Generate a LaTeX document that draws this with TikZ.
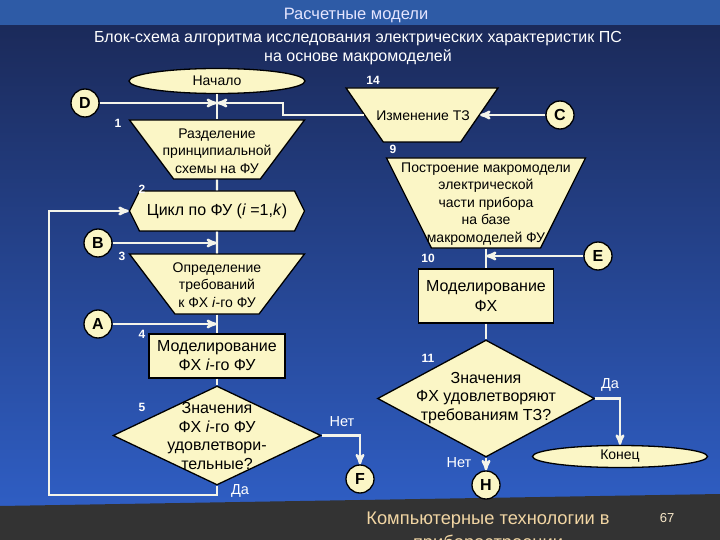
\documentclass[tikz,border=0pt]{standalone}
\usepackage{fontspec}
\setmainfont{Liberation Sans}
\usetikzlibrary{
    arrows,
    shapes,
    calc,
    positioning
}
\definecolor{slidetop}{HTML}{2E5BA6}
\definecolor{slidenavy}{HTML}{1B2A5A}
\definecolor{slideblue}{HTML}{2F5EC4}
\definecolor{footgray}{HTML}{333333}
\definecolor{blockfill}{HTML}{FBF6C6}
\definecolor{wire}{HTML}{F4F4EA}
\definecolor{foottext}{HTML}{F2D6A4}

\tikzset{
    blk/.style={draw=black, line width=1.3pt, fill=blockfill, inner sep=0pt},
    txt/.style={text=black, align=center, font=\fontsize{14}{17.5}\selectfont},
    bigtxt/.style={text=black, align=center, font=\fontsize{16}{19}\selectfont},
    trap/.style={blk, trapezium, trapezium stretches=true, shape border rotate=180, inner sep=2pt},
    proc/.style={blk, rectangle, bigtxt},
    term/.style={blk, ellipse, txt},
    cyc/.style={blk, signal, signal to=west and east, bigtxt},
    decis/.style={blk, diamond, inner sep=2pt},
    conn/.style={blk, circle, minimum size=28pt, font=\bfseries\fontsize{16}{16}\selectfont},
    num/.style={text=white, font=\bfseries\fontsize{12}{12}\selectfont},
    lbl/.style={text=white, font=\fontsize{14.5}{14.5}\selectfont},
    wireline/.style={draw=wire, line width=2.4pt},
    wirearrow/.style={wireline, ->, >=stealth'}
}

\begin{document}
\begin{tikzpicture}[x=1pt, y=-1pt]
    % slide background
    \useasboundingbox (0,0) rectangle (720,540);
    \fill[top color=slidenavy, bottom color=slideblue] (0,25) rectangle (720,510);
    \fill[slidetop] (0,0) rectangle (720,25);
    \fill[footgray] (0,506) -- (720,494) -- (720,540) -- (0,540) -- cycle;

    \node[text=white!90!blue, font=\fontsize{16.5}{16.5}\selectfont] (head) at (356,15) {Расчетные модели};
    \node[text=white, align=center, font=\fontsize{16}{19}\selectfont] (title) at (358,48)
        {Блок-схема алгоритма исследования электрических характеристик ПС\\на основе макромоделей};

    % left column
    \node[term, minimum width=176pt, minimum height=25pt] (start) at (217,81) {Начало};
    \node[trap, trapezium left angle=63, trapezium right angle=63, minimum width=175pt, minimum height=59pt] (b1) at (217,149.5) {};
    \node[txt] (b1t) at (217,151) {Разделение\\принципиальной\\схемы на ФУ};
    \node[cyc, minimum width=175pt, minimum height=40pt, signal pointer angle=127] (b2) at (217,211) {Цикл по ФУ (\textit{i} =1,\textit{k})};
    \node[trap, trapezium left angle=61.6, trapezium right angle=61.6, minimum width=175pt, minimum height=60pt] (b3) at (217,284) {};
    \node[txt] (b3t) at (217,285) {Определение\\требований\\к ФХ \textit{i}-го ФУ};
    \node[proc, minimum width=136pt, minimum height=44pt] (b4) at (217,356) {Моделирование\\ФХ \textit{i}-го ФУ};
    \node[decis, minimum width=208pt, minimum height=99pt] (b5) at (217,435.5) {};
    \node[bigtxt, font=\fontsize{16}{18.7}\selectfont] (b5t) at (217,436) {Значения\\ФХ \textit{i}-го ФУ\\удовлетвори-\\тельные?};

    % right column
    \node[trap, trapezium left angle=64.3, trapezium right angle=64.3, minimum width=152pt, minimum height=54pt] (b14) at (422,115) {};
    \node[txt] (b14t) at (423,116) {Изменение ТЗ};
    \node[trap, trapezium left angle=67.6, trapezium right angle=67.6, minimum width=199pt, minimum height=90pt] (b9) at (486,203) {};
    \node[txt] (b9t) at (486,204) {Построение макромодели\\электрической\\части прибора\\на базе\\макромоделей ФУ};
    \node[proc, minimum width=135pt, minimum height=54pt, font=\fontsize{16}{20}\selectfont] (b10) at (486,296) {Моделирование\\ФХ};
    \node[decis, minimum width=217pt, minimum height=117pt] (b11) at (486,398.5) {};
    \node[bigtxt, font=\fontsize{16}{18.5}\selectfont] (b11t) at (486,398) {Значения\\ФХ удовлетворяют\\требованиям ТЗ?};
    \node[term, minimum width=175pt, minimum height=22pt] (stop) at (620,456.5) {Конец};

    % connectors
    \node[conn] (cD) at (85,103) {D};
    \node[conn] (cC) at (560,115) {C};
    \node[conn] (cB) at (98,243) {B};
    \node[conn] (cA) at (98,324) {A};
    \node[conn] (cE) at (598,256) {E};
    \node[conn] (cF) at (360,479) {F};
    \node[conn] (cH) at (486,485) {H};

    % block numbers
    \node[num] (n14) at (373,80) {14};
    \node[num] (n1) at (118,123) {1};
    \node[num] (n2) at (142,189) {2};
    \node[num] (n3) at (122,256) {3};
    \node[num] (n4) at (142,334) {4};
    \node[num] (n5) at (142,407) {5};
    \node[num] (n9) at (393,149) {9};
    \node[num] (n10) at (428,258) {10};
    \node[num] (n11) at (428,358) {11};

    \node[lbl] (yes5) at (240,491) {Да};
    \node[lbl] (no5) at (342,422) {Нет};
    \node[lbl] (yes11) at (610,385) {Да};
    \node[lbl] (no11) at (459,463) {Нет};

    % wires
    \coordinate (k1) at (283,103);
    \coordinate (lp) at (49,495);
    \draw[wireline] (start) -- (b1);
    \draw[wirearrow] (cD) -- (cD -| b1.north);
    \draw[wirearrow] (b14.west) -| (k1) -- (k1 -| b1.north);
    \draw[wirearrow] (cC) -- (b14);
    \draw[wireline] (b1) -- (b2);
    \draw[wireline] (b2) -- (b3);
    \draw[wirearrow] (cB) -- (cB -| b2.south);
    \draw[wireline] (b3) -- (b4);
    \draw[wirearrow] (cA) -- (cA -| b4.north);
    \draw[wireline] (b4) -- (b5);
    \draw[wirearrow] (b5.south) |- (lp) |- (b2.west);
    \draw[wirearrow] (b5.east) -| (cF);
    \draw[wireline] (b9) -- (b10);
    \draw[wirearrow] (cE) -- (cE -| b9.south);
    \draw[wireline] (b10) -- (b11);
    \draw[wirearrow] (b11.east) -| (stop);
    \draw[wirearrow] (b11.south) -- (cH);

    % footer
    \node[text=foottext, font=\fontsize{18.3}{18.3}\selectfont] (foot) at (488,520) {Компьютерные технологии в};
    \node[text=foottext, font=\fontsize{18.3}{18.3}\selectfont] (foot2) at (488,544) {приборостроении};
    \node[text=foottext!60!white, font=\fontsize{13}{13}\selectfont] (page) at (667,518) {67};
\end{tikzpicture}
\end{document}
